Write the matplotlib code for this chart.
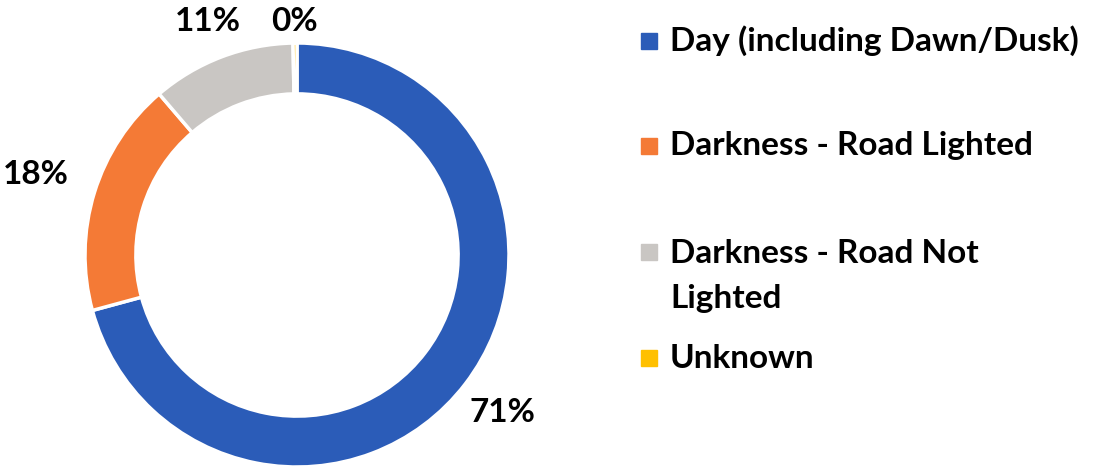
import numpy as np
import matplotlib.pyplot as plt
from matplotlib.patches import Rectangle

# Light conditions share (percent)
categories = ["Day (including Dawn/Dusk)", "Darkness - Road Lighted",
              "Darkness - Road Not\nLighted", "Unknown"]
shares = [71.0, 18.0, 11.0, 0.3]
colors = ["#2B5CB8", "#F47A36", "#C9C6C3", "#FFC000"]

plt.rcParams['font.family'] = ['Lato', 'DejaVu Sans']

fig = plt.figure(figsize=(10.96, 4.68), dpi=100)

# donut: centre ~ (297, 255) px, outer radius ~212 px
W, H = 1096, 468
cx, cy, r = 297, 255, 212
ax = fig.add_axes([(cx - r) / W, (H - cy - r) / H, 2 * r / W, 2 * r / H])
wedges, _ = ax.pie(shares, colors=colors, startangle=90, counterclock=False,
                   wedgeprops=dict(width=0.24, edgecolor='white', linewidth=2.5))
ax.set_xlim(-1, 1)
ax.set_ylim(-1, 1)
ax.set_aspect('equal')
ax.axis('off')

# percentage labels outside the ring
label_dist = [1.22, 1.29, 1.18, 1.1]
for w, val, d in zip(wedges, shares, label_dist):
    mid = np.deg2rad((w.theta1 + w.theta2) / 2)
    ax.text(d * np.cos(mid), d * np.sin(mid), f"{val:.0f}%",
            ha='center', va='center', fontsize=24, fontweight='bold',
            color='black', clip_on=False)

# legend drawn by hand (Excel-style spacing)
row_y = [41, 146, 252, 358]
for name, col, y in zip(categories, colors, row_y):
    fig.patches.append(Rectangle((641 / W, 1 - (y + 8) / H), 16 / W, 16 / H,
                                 color=col, transform=fig.transFigure, figure=fig))
    if '\n' in name:
        fig.text(670 / W, 1 - (y - 13) / H, name, ha='left', va='top',
                 fontsize=24, fontweight='bold', linespacing=1.66)
    else:
        fig.text(670 / W, 1 - y / H, name, ha='left', va='center',
                 fontsize=24, fontweight='bold')

fig.savefig("out.png", dpi=100)
